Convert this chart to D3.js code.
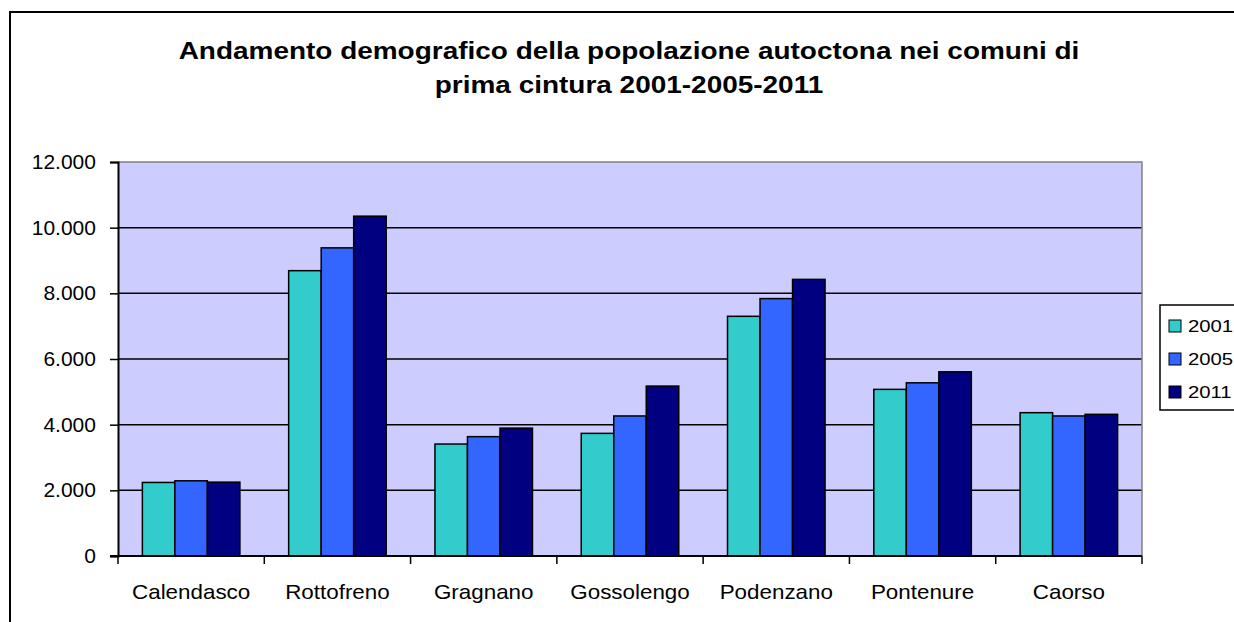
<!DOCTYPE html>
<html>
<head>
<meta charset="utf-8">
<script src="https://cdn.jsdelivr.net/npm/d3@7"></script>
<style>
  body { margin: 0; background: #fff; }
  svg { display: block; font-family: "Liberation Sans", Arial, sans-serif; }
</style>
</head>
<body>
<div id="chart"></div>
<script>

// chart data
var comuni = ["Calendasco", "Rottofreno", "Gragnano", "Gossolengo", "Podenzano", "Pontenure", "Caorso"];
var anni = ["2001", "2005", "2011"];
var pop2001 = [2240, 8690, 3410, 3735, 7300, 5075, 4365];
var pop2005 = [2290, 9385, 3635, 4265, 7840, 5275, 4265];
var pop2011 = [2250, 10350, 3895, 5175, 8425, 5610, 4315];
var yTicks = [0, 2000, 4000, 6000, 8000, 10000, 12000];

var colors = ["#33CCCC", "#3366FF", "#000080"];
var series = [pop2001, pop2005, pop2011];

var width = 1234, height = 622;
var plot = {left: 118, right: 1142, top: 162, bottom: 556};

var svg = d3.select("#chart").append("svg")
  .attr("width", width)
  .attr("height", height);

// outer frame (right / bottom run past the window)
svg.append("rect")
  .attr("x", 10).attr("y", 12)
  .attr("width", 1260).attr("height", 700)
  .attr("fill", "white")
  .attr("stroke", "black")
  .attr("stroke-width", 2);

// title (text in the picture is a bit wider than the font, so stretch it)
var title = svg.append("g")
  .attr("transform", "translate(629,0) scale(1.165,1)")
  .append("text")
  .attr("text-anchor", "middle")
  .style("font-weight", "bold")
  .style("font-size", "24px");
title.append("tspan").attr("x", 0).attr("y", 59)
  .text("Andamento demografico della popolazione autoctona nei comuni di");
title.append("tspan").attr("x", 0).attr("y", 93)
  .text("prima cintura 2001-2005-2011");

// scales
var x0 = d3.scaleBand()
  .domain(comuni)
  .range([plot.left, plot.right])
  .padding(0);

var x1 = d3.scaleBand()
  .domain(anni)
  .range([0, x0.bandwidth()])
  .paddingInner(0)
  .paddingOuter(0.75);

var y = d3.scaleLinear()
  .domain([0, 12000])
  .range([plot.bottom, plot.top]);

// plot background
svg.append("rect")
  .attr("x", plot.left).attr("y", plot.top)
  .attr("width", plot.right - plot.left)
  .attr("height", plot.bottom - plot.top)
  .attr("fill", "#CCCCFF");

// grid lines
svg.append("g")
  .selectAll("line")
  .data(yTicks.filter(d => d > 0 && d < 12000))
  .enter()
  .append("line")
    .attr("x1", plot.left).attr("x2", plot.right)
    .attr("y1", d => y(d)).attr("y2", d => y(d))
    .attr("stroke", "black")
    .attr("stroke-width", 1.5);

// grey border top / right
svg.append("path")
  .attr("d", "M" + plot.left + "," + plot.top + "H" + plot.right + "V" + plot.bottom)
  .attr("fill", "none")
  .attr("stroke", "#808080")
  .attr("stroke-width", 1.5);

// bars
var groups = svg.append("g")
  .selectAll("g")
  .data(comuni)
  .enter()
  .append("g")
    .attr("transform", d => "translate(" + x0(d) + ",0)");

groups.selectAll("rect")
  .data((d, i) => anni.map((a, k) => ({anno: a, k: k, value: series[k][i]})))
  .enter()
  .append("rect")
    .attr("x", d => x1(d.anno))
    .attr("y", d => y(d.value))
    .attr("width", x1.bandwidth())
    .attr("height", d => y(0) - y(d.value))
    .attr("fill", d => colors[d.k])
    .attr("stroke", "black")
    .attr("stroke-width", 1.5);

// y axis
var yAxis = svg.append("g")
  .attr("transform", "translate(" + plot.left + ",0)")
  .call(d3.axisLeft(y)
    .tickValues(yTicks)
    .tickSize(8)
    .tickPadding(13)
    .tickFormat(d => d3.format(",")(d).replace(/,/g, ".")));
yAxis.select(".domain").attr("stroke", "black").attr("stroke-width", 2);
yAxis.selectAll(".tick line").attr("stroke", "black").attr("stroke-width", 1.5);
yAxis.selectAll("text")
  .style("font-size", "20px")
  .attr("fill", "black")
  .attr("transform", "scale(1.05,1)");

// x axis
var xAxis = svg.append("g")
  .attr("transform", "translate(0," + plot.bottom + ")")
  .call(d3.axisBottom(x0).tickSize(0).tickPadding(29));
xAxis.select(".domain").remove();
xAxis.selectAll("text")
  .style("font-size", "20px")
  .attr("fill", "black")
  .attr("transform", "scale(1.12,1)");

svg.append("line")
  .attr("x1", plot.left - 8).attr("x2", plot.right)
  .attr("y1", plot.bottom).attr("y2", plot.bottom)
  .attr("stroke", "black")
  .attr("stroke-width", 2);

// tick marks between categories
svg.append("g")
  .selectAll("line")
  .data(comuni.map(d => x0(d)).concat([plot.right]))
  .enter()
  .append("line")
    .attr("x1", d => d).attr("x2", d => d)
    .attr("y1", plot.bottom).attr("y2", plot.bottom + 8)
    .attr("stroke", "black")
    .attr("stroke-width", 1.5);

// legend
var legend = svg.append("g");
legend.append("rect")
  .attr("x", 1160).attr("y", 305)
  .attr("width", 120).attr("height", 105)
  .attr("fill", "white")
  .attr("stroke", "black")
  .attr("stroke-width", 1.5);

var items = legend.selectAll("g.item")
  .data(anni)
  .enter()
  .append("g")
    .attr("class", "item")
    .attr("transform", (d, i) => "translate(1169," + (320 + i * 33) + ")");

items.append("rect")
  .attr("width", 12).attr("height", 12)
  .attr("fill", (d, i) => colors[i])
  .attr("stroke", "black")
  .attr("stroke-width", 1);

items.append("text")
  .attr("transform", "translate(19,12) scale(1.27,1)")
  .style("font-size", "16px")
  .text(d => d);

</script>
</body>
</html>
